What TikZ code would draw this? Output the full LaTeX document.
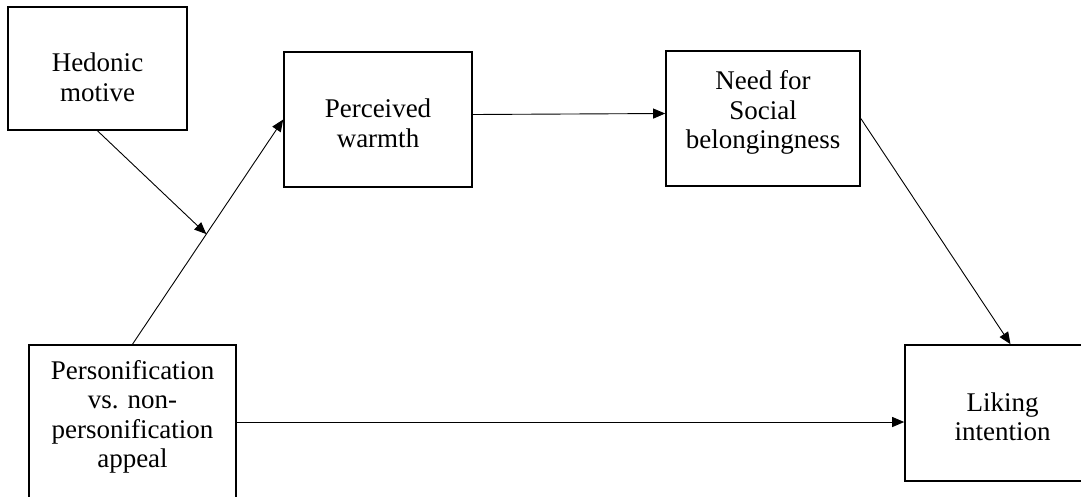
\documentclass[tikz,border=0pt]{standalone}
\usepackage{fontspec}
\setmainfont{Liberation Serif}
\usetikzlibrary{arrows.meta}

\begin{document}
\begin{tikzpicture}[x=1pt, y=-1pt,
		box/.style={draw, line width=1.6pt, inner sep=0pt},
		lbl/.style={align=center, inner sep=0pt, font=\fontsize{27}{29.5}\selectfont},
		arr/.style={line width=0.9pt, -{Triangle[length=12pt, width=10pt]}}]
		\useasboundingbox (0, 0) rectangle (1081, 496);
		
		% boxes
		\node[box, minimum width=179pt, minimum height=123pt] (hedonic) at (97.5, 68.5) {};
		\node[box, minimum width=188pt, minimum height=135pt] (warmth) at (378, 119.5) {};
		\node[box, minimum width=194pt, minimum height=135pt] (need) at (763, 118.5) {};
		\node[box, minimum width=207pt, minimum height=154pt] (person) at (132.5, 422) {};
		\node[box, minimum width=195pt, minimum height=136pt] (liking) at (1002.5, 413) {};
		
		% texts
		\node[lbl] (hedonic-t) at ([yshift=-9pt]hedonic) {Hedonic\\motive};
		\node[lbl] (warmth-t) at ([yshift=-4pt]warmth) {Perceived\\warmth};
		\node[lbl] (need-t) at ([yshift=6pt]need) {Need for\\Social\\belongingness};
		\node[lbl] (person-t) at ([yshift=5pt]person) {Personification\\vs. non-\\personification\\appeal};
		\node[lbl] (liking-t) at ([yshift=-4pt]liking) {Liking\\intention};
		
		% arrows
		\draw[arr] (person.north) -- coordinate[pos=0.49] (mid) (warmth.west);
		\draw[arr] (hedonic.south) -- (mid);
		\draw[arr] ([yshift=5pt]warmth.east) -- ([yshift=5pt]need.west);
		\draw[arr] (need.east) -- ([xshift=8pt]liking.north);
		\draw[arr] (person.east) -- (person.east -| liking.west);
	\end{tikzpicture}
\end{document}
